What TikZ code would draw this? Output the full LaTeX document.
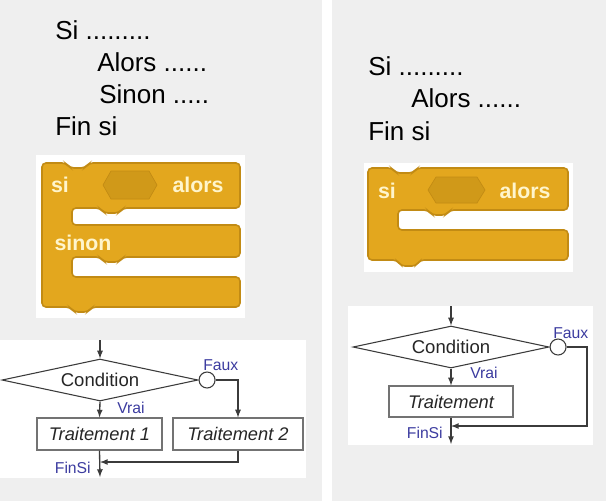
\documentclass[tikz,border=0pt]{standalone}
\usepackage{fontspec}
\setmainfont{Liberation Sans}
\usetikzlibrary{arrows}
\usetikzlibrary{shapes.geometric}

\tikzset{
  pseudo/.style={anchor=base west, inner sep=0pt, font=\fontsize{19.5}{23}\selectfont},
  blocktxt/.style={inner sep=0pt, text=blocktext, font=\fontsize{16}{18}\selectfont\bfseries},
  block/.style={fill=blockgold, draw=blockdark, line width=1.2pt, rounded corners=3pt},
  hexa/.style={fill=hexgold, draw=blockdark, line width=0.5pt},
  test/.style={diamond, aspect=4.7, inner sep=0pt, draw=flowline, line width=0.8pt,
    minimum width=147pt, minimum height=31.5pt, text=black!85, font=\fontsize{13.9}{16}\selectfont},
  traite/.style={rectangle, draw=gray!90!black, line width=0.8pt, minimum height=24pt,
    text=black!85, font=\fontsize{13.7}{16}\selectfont\itshape},
  joint/.style={circle, draw=flowline, fill=white, line width=0.8pt, minimum size=12pt, inner sep=0pt},
  etiq/.style={inner sep=0pt, text=labelblue, font=\fontsize{11.8}{14}\selectfont},
  fleche/.style={draw=flowline, line width=1pt, ->, >=latex}
}

\begin{document}
\begin{tikzpicture}[x=0.75pt,y=-0.75pt]
        \definecolor{panelgray}{rgb}{0.937,0.937,0.937}
        \definecolor{blockgold}{rgb}{0.890,0.655,0.118}
        \definecolor{blockdark}{rgb}{0.760,0.545,0.078}
        \definecolor{hexgold}{rgb}{0.815,0.600,0.098}
        \definecolor{blocktext}{rgb}{1.0,0.960,0.800}
        \definecolor{labelblue}{rgb}{0.235,0.235,0.627}
        \definecolor{flowline}{rgb}{0.23,0.23,0.23}

        \useasboundingbox (0,0) rectangle (606,501);
        \fill[panelgray] (0,0) rectangle (322,501);
        \fill[panelgray] (332,0) rectangle (606,501);

        %pseudo code
        \node[pseudo] (si1) at (55,39) {Si .........};
        \node[pseudo] (alors1) at (97,71) {Alors ......};
        \node[pseudo] (sinon1) at (99,103) {Sinon .....};
        \node[pseudo] (finsi1) at (55,135) {Fin si};

        \node[pseudo] (si2) at (368,75) {Si .........};
        \node[pseudo] (alors2) at (411,107) {Alors ......};
        \node[pseudo] (finsi2) at (368,140) {Fin si};

        %scratch blocks
        \fill[white] (36,155) rectangle (245,318);
        \path[block] (42,307) -- (42,163) -- (66,163) -- (70,168) -- (85,168) -- (89,163)
            -- (240,163) -- (240,208) -- (123,208) -- (119,213) -- (104,213) -- (100,208)
            -- (72,208) -- (72,225) -- (240,225) -- (240,257) -- (123,257) -- (119,262)
            -- (104,262) -- (100,257) -- (72,257) -- (72,277) -- (240,277) -- (240,307)
            -- (92,307) -- (88,312) -- (74,312) -- (70,307) -- cycle;
        \path[hexa] (103,185) -- (111,171) -- (149,171) -- (157,185) -- (149,199) -- (111,199) -- cycle;
        \node[blocktxt] (bsi1) at (60,185) {si};
        \node[blocktxt] (balors1) at (198,185) {alors};
        \node[blocktxt] (bsinon1) at (83,243) {sinon};

        \fill[white] (364,163) rectangle (573,272);
        \path[block] (368,260) -- (368,168) -- (392,168) -- (396,173) -- (413,173) -- (417,168)
            -- (568,168) -- (568,210) -- (450,210) -- (446,215) -- (432,215) -- (428,210)
            -- (398,210) -- (398,230) -- (568,230) -- (568,260) -- (420,260) -- (416,266)
            -- (401,266) -- (397,260) -- cycle;
        \path[hexa] (428,190) -- (436,177) -- (477,177) -- (485,190) -- (477,203) -- (436,203) -- cycle;
        \node[blocktxt] (bsi2) at (387,191) {si};
        \node[blocktxt] (balors2) at (525,191) {alors};

        %flowchart si alors sinon
        \fill[white] (0,340) rectangle (306,478);
        \coordinate (in1) at (100,340);
        \node[test] (cond1) at (100,380) {Condition};
        \node[joint, anchor=west] (rond1) at (cond1.east) {};
        \node[traite, minimum width=93.75pt] (t1) at (99.5,434) {Traitement 1};
        \node[traite, minimum width=97.5pt] (t2) at (238,434) {Traitement 2};
        \coordinate (fin1) at (100,462);
        \coordinate (out1) at (100,477);
        \draw[fleche] (in1) -- (cond1.north);
        \draw[fleche] (cond1.south) -- (t1.north);
        \draw[fleche] (rond1.east) -| (t2.north);
        \draw[fleche] (t2.south) |- (fin1);
        \draw[fleche] (t1.south) -- (out1);
        \node[etiq, anchor=west] (faux1) at (203,365) {Faux};
        \node[etiq, anchor=west] (vrai1) at (117,408) {Vrai};
        \node[etiq, anchor=east] (finsilbl1) at (91,468) {FinSi};

        %flowchart si alors
        \fill[white] (348,306) rectangle (593,445);
        \coordinate (in2) at (451,306);
        \node[test] (cond2) at (451,347) {Condition};
        \node[joint, anchor=west] (rond2) at (cond2.east) {};
        \node[traite, minimum width=93pt, minimum height=23.25pt] (t3) at (451,401.5) {Traitement};
        \coordinate (coin2) at (587,426);
        \coordinate (fin2) at (451,426);
        \coordinate (out2) at (451,444);
        \draw[fleche] (in2) -- (cond2.north);
        \draw[fleche] (cond2.south) -- (t3.north);
        \draw[fleche] (rond2.east) -| (coin2) -- (fin2);
        \draw[fleche] (t3.south) -- (out2);
        \node[etiq, anchor=west] (faux2) at (553,333) {Faux};
        \node[etiq, anchor=west] (vrai2) at (470,373) {Vrai};
        \node[etiq, anchor=east] (finsilbl2) at (443,433) {FinSi};
\end{tikzpicture}
\end{document}
